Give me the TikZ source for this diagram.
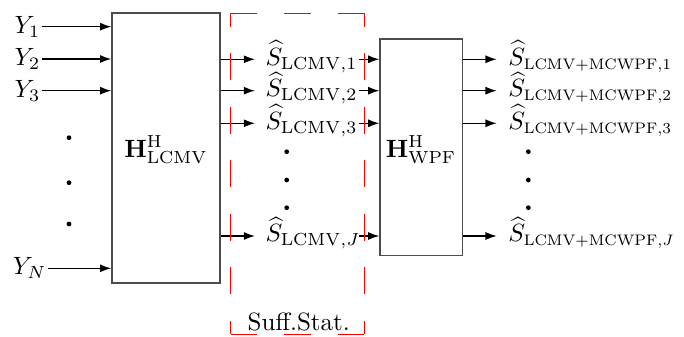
\documentclass[tikz,border=0pt]{standalone}
\usepackage{graphicx}
\usetikzlibrary{arrows.meta}
\begin{document}
\begin{tikzpicture}[x=0.4pt,y=-0.4pt,
  arr/.style={-{Latex[length=4.5pt,width=3.2pt]}, line width=0.5pt},
  blk/.style={draw=black!70, line width=0.6pt, inner sep=0pt},
  dotn/.style={circle, fill=black, inner sep=0pt, minimum size=1.9pt},
  lbl/.style={inner sep=0.5pt},
  sufbox/.style={draw=red, line width=0.5pt, dash pattern=on 10.7pt off 10.7pt}]
\useasboundingbox (0,0) rectangle (684,337);
% blocks
\node[blk, minimum width=43.2pt, minimum height=108pt] (lcmv) at (166,148) {};
\node at (166,150) (lcmvl) {$\mathbf{H}_{\mathrm{LCMV}}^{\mathrm{H}}$};
\node[blk, minimum width=32.9pt, minimum height=86.6pt] (wpf) at (421.2,147.5) {};
\node at (421,150) (wpfl) {$\mathbf{H}_{\mathrm{WPF}}^{\mathrm{H}}$};
% inputs
\node[lbl, anchor=east] (y1) at (42,26.7) {$Y_1$};
\node[lbl, anchor=east] (y2) at (42,59) {$Y_2$};
\node[lbl, anchor=east] (y3) at (42,90.7) {$Y_3$};
\node[lbl, anchor=east] (yn) at (48,268.3) {$Y_N$};
\foreach \n in {y1,y2,y3,yn}{\draw[arr] (\n.east) -- (\n.east -| lcmv.west);}
\node[dotn] (ld1) at (69,137.7) {};
\node[dotn] (ld2) at (69,182.7) {};
\node[dotn] (ld3) at (69,224) {};
% intermediate rows
\coordinate (r1) at (0,59.3);
\coordinate (r2) at (0,90.7);
\coordinate (r3) at (0,123.3);
\coordinate (r4) at (0,236);
\foreach \i/\t in {1/1,2/2,3/3,4/J}{
  \coordinate (a\i) at (255,0 |- r\i);
  \coordinate (b\i) at (359.3,0 |- r\i);
  \coordinate (c\i) at (496.7,0 |- r\i);
  \draw[arr] (lcmv.east |- r\i) -- (a\i);
  \node[lbl, anchor=base west] (s\i) at ([xshift=3.5pt,yshift=-2.4pt]a\i) {$\widehat{S}_{\mathrm{LCMV},\t}$};
  \draw[arr] (b\i) -- (wpf.west |- r\i);
  \draw[arr] (wpf.east |- r\i) -- (c\i);
  \node[lbl, anchor=base west] (t\i) at ([xshift=4pt,yshift=-2.4pt]c\i) {$\widehat{S}_{\scalebox{0.87}{$\scriptstyle\mathrm{LCMV+MCWPF},\t$}}$};
}
\node[dotn] (md1) at (286.7,151.7) {};
\node[dotn] (md2) at (286.7,180) {};
\node[dotn] (md3) at (286.7,207.7) {};
\node[dotn] (rd1) at (528.3,151.7) {};
\node[dotn] (rd2) at (528.3,180) {};
\node[dotn] (rd3) at (528.3,207.7) {};
% sufficient statistics box
\coordinate (tl) at (230.5,13.3);
\coordinate (tr) at (364.3,13.3);
\coordinate (bl) at (230.5,334.3);
\coordinate (br) at (364.3,334.3);
\draw[sufbox] (tl) -- (tr);
\draw[sufbox] (bl) -- (br);
\draw[sufbox, dash phase=5.35pt] (tl) -- (bl);
\draw[sufbox, dash phase=5.35pt] (tr) -- (br);
\node (suff) at (298.8,322) {Suff.Stat.};
\end{tikzpicture}
\end{document}
